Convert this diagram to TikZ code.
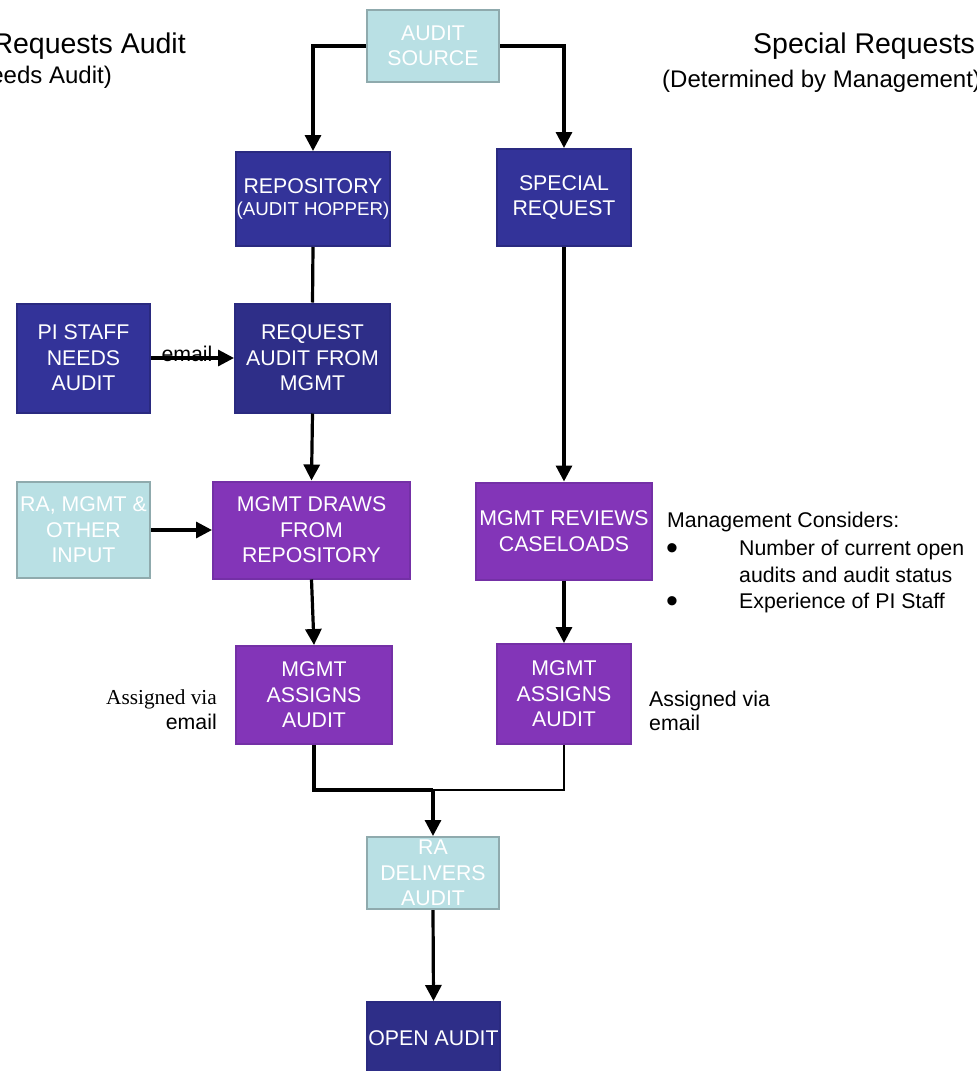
\documentclass[tikz,border=0pt]{standalone}
\usepackage{fontspec}
\setmainfont{Liberation Sans}
\newfontfamily\serifrm{Liberation Serif}
\usetikzlibrary{arrows.meta}
\definecolor{dblue}{HTML}{333399}
\definecolor{dblueB}{HTML}{2A2A80}
\definecolor{dblueD}{HTML}{2E2E88}
\definecolor{purp}{HTML}{8335B8}
\definecolor{purpB}{HTML}{7430A6}
\definecolor{lcyan}{HTML}{B9E0E4}
\definecolor{lcyanB}{HTML}{8FAAAD}
\newcommand{\boxfont}{\fontsize{21.3}{25.5}\selectfont}
\newcommand{\smallboxfont}{\fontsize{18.7}{22}\selectfont}
\newcommand{\headfont}{\fontsize{28.5}{32}\selectfont}
\newcommand{\subheadfont}{\fontsize{24}{28}\selectfont}
\newcommand{\bulletfont}{\fontsize{34}{34}\selectfont}
\tikzset{
  x=1pt, y=-1pt,
  fbox/.style={rectangle, inner sep=0pt, align=center, font=\boxfont, text=white, line width=2pt},
  bluebox/.style={fbox, fill=dblue, draw=dblueB},
  blueboxD/.style={fbox, fill=dblueD, draw=dblueB},
  purpbox/.style={fbox, fill=purp, draw=purpB},
  cyanbox/.style={fbox, fill=lcyan, draw=lcyanB},
  conn/.style={line width=3.2pt, -{Triangle[length=16pt,width=16pt]}},
  plainline/.style={line width=3.2pt},
  thinline/.style={line width=1.4pt},
  lbl/.style={inner sep=0pt, font=\boxfont, text=black},
}
\begin{document}
\begin{tikzpicture}
\useasboundingbox (0,0) rectangle (977,1071);
\fill[white] (0,0) rectangle (977,1071);
\clip (0,0) rectangle (977,1071);

% headings
\node[lbl, font=\headfont, anchor=base east] (hL1) at (186,53) {Requests Audit};
\node[lbl, font=\subheadfont, anchor=base east] (hL2) at (112,83) {eeds Audit)};
\node[lbl, font=\headfont, anchor=base west] (hR1) at (753,53) {Special Requests};
\node[lbl, font=\subheadfont, anchor=base west] (hR2) at (662,87) {(Determined by Management)};

% boxes
\node[cyanbox, minimum width=132, minimum height=72] (src) at (433,46) {AUDIT\\SOURCE};
\node[bluebox, minimum width=154, minimum height=94] (repo) at (313,199) {REPOSITORY\\[-3.5pt]{\smallboxfont (AUDIT HOPPER)}};
\node[bluebox, minimum width=134, minimum height=97] (spec) at (564,197.5) {SPECIAL\\REQUEST};
\node[bluebox, minimum width=133, minimum height=109] (pi) at (83.5,358) {PI STAFF\\NEEDS\\AUDIT};
\node[blueboxD, minimum width=155, minimum height=109] (req) at (312.5,358) {REQUEST\\AUDIT FROM\\MGMT};
\node[cyanbox, minimum width=133, minimum height=96] (rain) at (83.5,530) {RA, MGMT \&\\OTHER\\INPUT};
\node[purpbox, minimum width=197, minimum height=97] (draws) at (311.5,530) {MGMT DRAWS\\FROM\\REPOSITORY};
\node[purpbox, minimum width=176, minimum height=97] (rev) at (564,531) {MGMT REVIEWS\\CASELOADS};
\node[purpbox, minimum width=156, minimum height=98] (asgL) at (314,695) {MGMT\\ASSIGNS\\AUDIT};
\node[purpbox, minimum width=134, minimum height=100] (asgR) at (564,694) {MGMT\\ASSIGNS\\AUDIT};
\node[cyanbox, minimum width=132, minimum height=72] (rad) at (433,873) {RA\\DELIVERS\\AUDIT};
\node[blueboxD, minimum width=133, minimum height=72] (open) at (433.5,1038) {OPEN AUDIT};

% connectors
\coordinate (jn) at (433,790);
\draw[conn] (src.west) -| (repo.north);
\draw[conn] (src.east) -| (spec.north);
\draw[plainline] (repo.south) -- (req.north);
\draw[conn] (pi.east) -- (req.west);
\node[lbl, anchor=base] (emailA) at (187,361) {email};
\draw[conn] (req.south) -- (draws.north);
\draw[conn] (rain.east) -- (draws.west);
\draw[conn] (draws.south) -- (asgL.north);
\draw[conn] (spec.south) -- (rev.north);
\draw[conn] (rev.south) -- (asgR.north);
\draw[thinline] (asgR.south) |- (jn);
\draw[plainline] (asgL.south) |- (jn);
\draw[conn] (jn) -- (rad.north);
\draw[conn] (rad.south) -- (open.north);

% side notes
\node[lbl, anchor=base west] (mc) at (667,527) {Management Considers:};
\node[lbl, font=\bulletfont, anchor=base] (b1) at (672,559) {•};
\node[lbl, anchor=base west] (n1) at (739,555) {Number of current open};
\node[lbl, anchor=base west] (n2) at (739,582) {audits and audit status};
\node[lbl, font=\bulletfont, anchor=base] (b2) at (672,612) {•};
\node[lbl, anchor=base west] (n3) at (739,608) {Experience of PI Staff};

\node[lbl, anchor=base west] (avR1) at (649,706) {Assigned via};
\node[lbl, anchor=base west] (avR2) at (649,730) {email};
\node[lbl, font=\boxfont\serifrm, anchor=base east] (avL1) at (217,704) {Assigned via};
\node[lbl, anchor=base east] (avL2) at (217,729) {email};
\end{tikzpicture}
\end{document}
